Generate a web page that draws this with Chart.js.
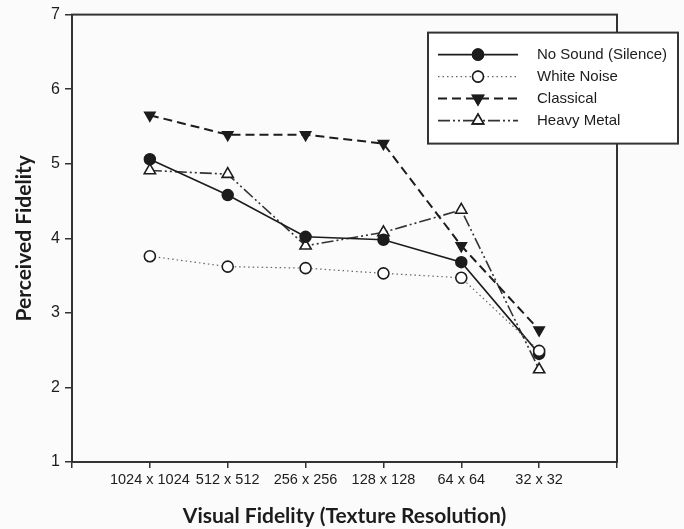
<!DOCTYPE html>
<html>
<head>
<meta charset="utf-8">
<script src="https://cdn.jsdelivr.net/npm/chart.js@4.4.1/dist/chart.umd.min.js"></script>
<style>
  html, body { margin: 0; padding: 0; background: #fbfbfb; }
  #wrap { width: 684px; height: 529px; position: relative; }
</style>
</head>
<body>
<div id="wrap"><canvas id="chart" width="684" height="529"></canvas></div>
<script>
const categories = ["1024 x 1024", "512 x 512", "256 x 256", "128 x 128", "64 x 64", "32 x 32"];
const noSound = [5.06, 4.58, 4.02, 3.98, 3.68, 2.45];
const whiteNoise = [3.76, 3.62, 3.60, 3.53, 3.47, 2.49];
const classical = [5.65, 5.39, 5.39, 5.27, 3.90, 2.77];
const heavyMetal = [4.91, 4.86, 3.90, 4.08, 4.38, 2.24];
const yTicks = [1, 2, 3, 4, 5, 6, 7];

const INK = "#1c1c1c";

// x positions 1..6 on a 0..7 axis, so the categories sit inside the frame
function pts(values) {
  return values.map((v, i) => ({ x: i + 1, y: v }));
}

const framePlugin = {
  id: "frame",
  beforeDatasetsDraw(chart) {
    const { ctx, chartArea: a } = chart;
    ctx.save();
    ctx.strokeStyle = "#333";
    ctx.lineWidth = 2;
    ctx.strokeRect(a.left, a.top, a.right - a.left, a.bottom - a.top);
    ctx.restore();
  },
};

// legend box overlapping the top right corner of the frame
const boxLegend = {
  id: "boxLegend",
  afterDraw(chart) {
    const { ctx, chartArea: a } = chart;
    const left = a.right - 189, top = a.top + 18, w = 250, h = 111;
    ctx.save();
    ctx.fillStyle = "#fff";
    ctx.fillRect(left, top, w, h);
    ctx.strokeStyle = "#333";
    ctx.lineWidth = 2;
    ctx.strokeRect(left, top, w, h);
    chart.data.datasets.forEach((ds, i) => {
      const y = top + 22 + i * 22;
      const x0 = left + 10, x1 = left + 90;
      ctx.strokeStyle = ds.borderColor;
      ctx.lineWidth = ds.borderWidth;
      ctx.setLineDash(ds.borderDash || []);
      ctx.beginPath();
      ctx.moveTo(x0, y);
      ctx.lineTo(x1, y);
      ctx.stroke();
      ctx.setLineDash([]);
      Chart.helpers.drawPoint(ctx, {
        pointStyle: ds.pointStyle,
        rotation: ds.pointRotation || 0,
        radius: ds.pointRadius,
        borderWidth: ds.pointBorderWidth,
      }, (x0 + x1) / 2, y);
      ctx.fillStyle = ds.pointBackgroundColor;
      ctx.strokeStyle = ds.pointBorderColor;
      ctx.lineWidth = ds.pointBorderWidth;
      ctx.fill();
      ctx.stroke();
      ctx.fillStyle = INK;
      ctx.font = "15px 'Liberation Sans', Arial, sans-serif";
      ctx.textBaseline = "middle";
      ctx.fillText(ds.label, left + 109, y);
    });
    ctx.restore();
  },
};

new Chart(document.getElementById("chart"), {
  type: "line",
  data: {
    datasets: [
      {
        label: "No Sound (Silence)",
        data: pts(noSound),
        borderColor: INK,
        borderWidth: 1.6,
        pointStyle: "circle",
        pointRadius: 5.5,
        pointBackgroundColor: INK,
        pointBorderColor: INK,
        pointBorderWidth: 1.5,
        order: 1,
      },
      {
        label: "White Noise",
        data: pts(whiteNoise),
        borderColor: "#666",
        borderWidth: 1.2,
        borderDash: [1.5, 3],
        pointStyle: "circle",
        pointRadius: 5.5,
        pointBackgroundColor: "#fff",
        pointBorderColor: INK,
        pointBorderWidth: 1.6,
        order: 0,
      },
      {
        label: "Classical",
        data: pts(classical),
        borderColor: INK,
        borderWidth: 2,
        borderDash: [9, 5],
        pointStyle: "triangle",
        pointRotation: 180,
        pointRadius: 6,
        pointBackgroundColor: INK,
        pointBorderColor: INK,
        pointBorderWidth: 1.5,
        order: 2,
      },
      {
        label: "Heavy Metal",
        data: pts(heavyMetal),
        borderColor: "#333",
        borderWidth: 1.6,
        borderDash: [12, 3, 2, 3, 2, 3],
        pointStyle: "triangle",
        pointRadius: 6.5,
        pointBackgroundColor: "#fff",
        pointBorderColor: INK,
        pointBorderWidth: 1.6,
        order: 3,
      },
    ],
  },
  options: {
    responsive: false,
    animation: false,
    devicePixelRatio: 1,
    layout: { padding: { top: 14, right: 67, left: 0, bottom: 0 } },
    elements: { line: { tension: 0 } },
    plugins: { legend: { display: false }, tooltip: { enabled: false } },
    scales: {
      x: {
        type: "linear",
        min: 0,
        max: categories.length + 1,
        afterBuildTicks(scale) {
          scale.ticks = Array.from({ length: categories.length + 2 }, (_, i) => ({ value: i }));
        },
        afterFit(scale) { scale.height = 67; },
        border: { display: false },
        grid: { drawOnChartArea: false, drawTicks: true, tickLength: 6, color: "#333", lineWidth: 1.5 },
        ticks: {
          autoSkip: false,
          maxRotation: 0,
          padding: 3,
          color: INK,
          font: { family: "'Liberation Sans', Arial, sans-serif", size: 14.5 },
          callback: (v) => categories[v - 1] || "",
        },
        title: {
          display: true,
          text: "Visual Fidelity (Texture Resolution)",
          color: INK,
          font: { family: "Lato, 'Open Sans', sans-serif", size: 21, weight: "bold" },
          padding: { top: 0, bottom: 0 },
        },
      },
      y: {
        min: 1,
        max: 7,
        afterBuildTicks(scale) {
          scale.ticks = yTicks.map((v) => ({ value: v }));
        },
        afterFit(scale) { scale.width = 72; },
        border: { display: false },
        grid: { drawOnChartArea: false, drawTicks: true, tickLength: 7, color: "#333", lineWidth: 1.5 },
        ticks: {
          padding: 5,
          color: INK,
          font: { family: "'Liberation Sans', Arial, sans-serif", size: 16 },
        },
        title: {
          display: true,
          text: "Perceived Fidelity",
          color: INK,
          font: { family: "Lato, 'Open Sans', sans-serif", size: 21, weight: "bold" },
          padding: { top: 12, bottom: 0 },
        },
      },
    },
  },
  plugins: [framePlugin, boxLegend],
});
</script>
</body>
</html>
